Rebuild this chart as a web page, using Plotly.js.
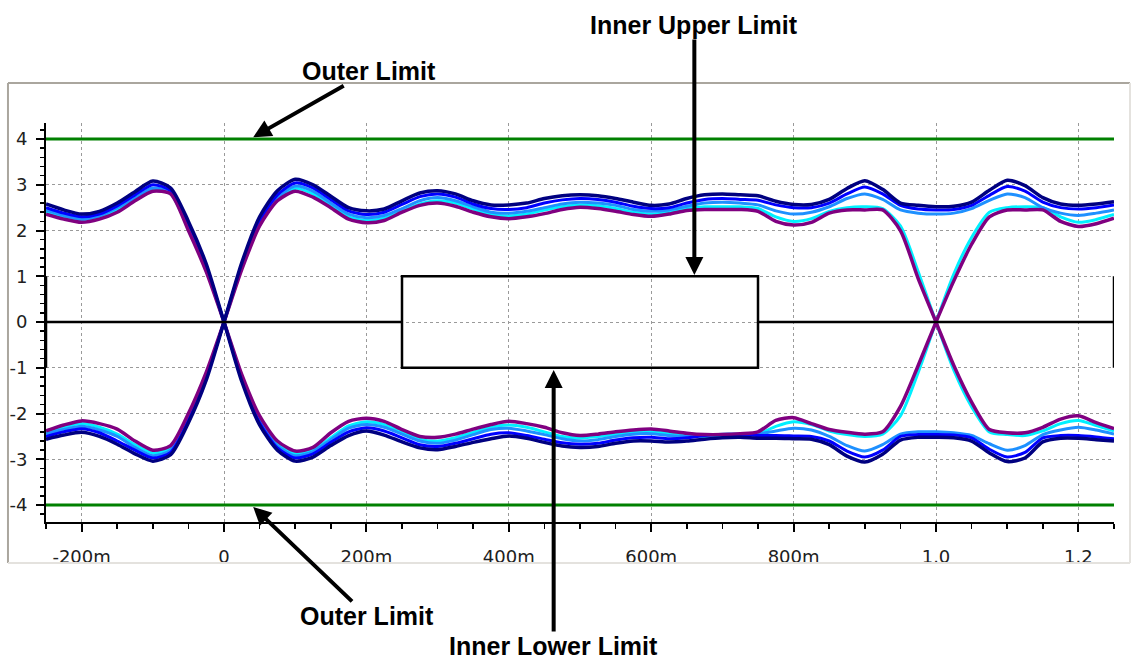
<!DOCTYPE html>
<html>
<head>
<meta charset="utf-8">
<script src="https://cdn.plot.ly/plotly-3.0.1.min.js"></script>
<style>html,body{margin:0;padding:0;background:#fff;}#chart{width:1137px;height:662px;}</style>
</head>
<body>
<div id="chart"></div>
<script>
// time axis (UI), one sample every 25m
const xUI = [-0.25,-0.225,-0.2,-0.175,-0.15,-0.125,-0.1,-0.075,-0.05,-0.025,
  0,0.025,0.05,0.075,0.1,0.125,0.15,0.175,0.2,0.225,
  0.25,0.275,0.3,0.325,0.35,0.375,0.4,0.425,0.45,0.475,
  0.5,0.525,0.55,0.575,0.6,0.625,0.65,0.675,0.7,0.725,
  0.75,0.775,0.8,0.825,0.85,0.875,0.9,0.925,0.95,0.975,
  1.0,1.025,1.05,1.075,1.1,1.125,1.15,1.175,1.2,1.225,1.25];

// navy outer-envelope traces (V)
const navyHL = [2.58,2.45,2.36,2.42,2.6,2.85,3.08,2.93,2.2,1.27,
  0,-1.3,-2.25,-2.8,-3.04,-2.95,-2.7,-2.48,-2.38,-2.47,
  -2.62,-2.75,-2.79,-2.72,-2.63,-2.55,-2.49,-2.54,-2.63,-2.71,
  -2.74,-2.72,-2.65,-2.6,-2.6,-2.62,-2.6,-2.56,-2.53,-2.52,
  -2.54,-2.54,-2.55,-2.56,-2.68,-2.93,-3.06,-2.89,-2.58,-2.52,
  -2.52,-2.53,-2.6,-2.86,-3.05,-2.97,-2.62,-2.54,-2.54,-2.57,-2.6];
const navyLH = [-2.56,-2.47,-2.41,-2.5,-2.67,-2.88,-3.04,-2.9,-2.2,-1.27,
  0,1.3,2.3,2.87,3.12,3.0,2.75,2.5,2.43,2.47,
  2.65,2.82,2.87,2.8,2.65,2.56,2.56,2.6,2.7,2.76,
  2.78,2.76,2.7,2.62,2.55,2.58,2.7,2.78,2.8,2.78,
  2.76,2.64,2.57,2.57,2.68,2.92,3.09,2.9,2.6,2.55,
  2.52,2.53,2.62,2.88,3.1,2.98,2.72,2.58,2.55,2.58,2.63];

// purple inner-envelope traces (V)
const purpleHLH = [2.36,2.25,2.18,2.25,2.4,2.65,2.86,2.8,2.0,1.1,
  0,-1.15,-2.05,-2.6,-2.82,-2.74,-2.42,-2.17,-2.1,-2.17,
  -2.35,-2.5,-2.52,-2.45,-2.34,-2.24,-2.17,-2.22,-2.3,-2.42,
  -2.48,-2.45,-2.4,-2.36,-2.34,-2.38,-2.43,-2.46,-2.46,-2.44,
  -2.4,-2.15,-2.09,-2.22,-2.35,-2.41,-2.45,-2.4,-1.85,-0.95,
  0,0.9,1.7,2.3,2.45,2.45,2.45,2.2,2.09,2.15,2.27];
const purpleLHL = [-2.38,-2.25,-2.16,-2.22,-2.34,-2.6,-2.8,-2.7,-2.0,-1.1,
  0,1.15,2.1,2.65,2.86,2.73,2.5,2.25,2.17,2.22,
  2.4,2.55,2.6,2.53,2.4,2.3,2.26,2.3,2.37,2.46,
  2.51,2.48,2.42,2.35,2.31,2.36,2.44,2.46,2.46,2.46,
  2.42,2.2,2.12,2.18,2.38,2.45,2.45,2.45,2.0,0.95,
  0,-0.95,-1.75,-2.35,-2.42,-2.42,-2.3,-2.12,-2.05,-2.2,-2.33];

// blue traces (V)
const blueHL = [2.5,2.38,2.3,2.36,2.54,2.78,3.0,2.87,2.15,1.22,
  0,-1.25,-2.2,-2.75,-2.97,-2.88,-2.63,-2.4,-2.31,-2.38,
  -2.53,-2.68,-2.72,-2.65,-2.55,-2.45,-2.42,-2.48,-2.56,-2.64,
  -2.67,-2.65,-2.58,-2.53,-2.52,-2.55,-2.53,-2.48,-2.46,-2.46,
  -2.48,-2.48,-2.49,-2.5,-2.6,-2.82,-2.95,-2.8,-2.5,-2.46,
  -2.46,-2.47,-2.53,-2.78,-2.95,-2.85,-2.53,-2.48,-2.48,-2.51,-2.55];
const blueLH = [-2.5,-2.4,-2.33,-2.42,-2.6,-2.8,-2.97,-2.85,-2.15,-1.22,
  0,1.25,2.2,2.78,3.04,2.93,2.68,2.43,2.35,2.4,
  2.57,2.74,2.8,2.73,2.58,2.48,2.46,2.5,2.6,2.67,
  2.7,2.68,2.62,2.53,2.48,2.5,2.6,2.68,2.7,2.68,
  2.66,2.56,2.5,2.5,2.6,2.8,2.95,2.8,2.55,2.47,
  2.45,2.46,2.55,2.77,2.96,2.86,2.62,2.5,2.47,2.5,2.56];

// light blue traces (V)
const lightLH = [-2.45,-2.35,-2.28,-2.36,-2.5,-2.74,-2.92,-2.8,-2.1,-1.18,
  0,1.2,2.15,2.72,2.97,2.86,2.6,2.36,2.28,2.33,
  2.48,2.65,2.72,2.65,2.52,2.4,2.38,2.42,2.5,2.58,
  2.62,2.6,2.55,2.46,2.42,2.45,2.53,2.6,2.62,2.6,
  2.56,2.43,2.36,2.4,2.52,2.7,2.8,2.68,2.45,2.38,
  2.36,2.38,2.48,2.66,2.8,2.72,2.5,2.38,2.33,2.38,2.45];
const lightHL = [2.45,2.33,2.25,2.32,2.5,2.72,2.93,2.83,2.1,1.18,
  0,-1.2,-2.15,-2.7,-2.92,-2.83,-2.57,-2.32,-2.24,-2.3,
  -2.45,-2.6,-2.65,-2.58,-2.46,-2.35,-2.32,-2.38,-2.46,-2.55,
  -2.6,-2.57,-2.5,-2.45,-2.44,-2.48,-2.5,-2.48,-2.45,-2.45,
  -2.45,-2.38,-2.32,-2.36,-2.5,-2.7,-2.82,-2.68,-2.45,-2.4,
  -2.4,-2.42,-2.48,-2.66,-2.8,-2.7,-2.46,-2.36,-2.3,-2.36,-2.45];

// cyan traces (V), switching again at 1.0 UI
const cyanLHL = [-2.42,-2.3,-2.22,-2.3,-2.45,-2.68,-2.86,-2.76,-2.05,-1.14,
  0,1.18,2.12,2.68,2.92,2.8,2.55,2.3,2.22,2.27,
  2.42,2.58,2.65,2.6,2.47,2.35,2.32,2.36,2.45,2.52,
  2.56,2.54,2.48,2.4,2.36,2.4,2.48,2.52,2.52,2.52,
  2.48,2.3,2.2,2.26,2.42,2.5,2.52,2.48,2.1,1.1,
  0,-1.05,-1.85,-2.4,-2.46,-2.48,-2.38,-2.22,-2.15,-2.26,-2.38];
const cyanHLH = [2.42,2.3,2.22,2.3,2.45,2.7,2.9,2.8,2.05,1.14,
  0,-1.18,-2.1,-2.66,-2.88,-2.8,-2.53,-2.27,-2.18,-2.24,
  -2.4,-2.56,-2.6,-2.53,-2.41,-2.3,-2.25,-2.3,-2.4,-2.5,
  -2.54,-2.5,-2.45,-2.4,-2.4,-2.43,-2.47,-2.5,-2.5,-2.48,
  -2.45,-2.28,-2.18,-2.24,-2.38,-2.46,-2.5,-2.45,-2.05,-1.1,
  0,1.05,1.85,2.4,2.5,2.52,2.5,2.3,2.18,2.24,2.35];

// eye mask outline and outer limits
const maskX = [-0.25,-0.25,-0.25,0.25,0.25,0.75,0.75,1.25,1.25,1.25,1.25,0.75,0.75,0.25,0.25];
const maskY = [1,-1,0,0,1,1,0,0,1,-1,0,0,-1,-1,0];
const outerX = [-0.25, 1.25];
const outerUpper = [4, 4];
const outerLower = [-4, -4];

// tick labels
const xTickVals = [-0.2,0,0.2,0.4,0.6,0.8,1.0,1.2];
const xTickText = ['-200m','0','200m','400m','600m','800m','1.0','1.2'];
const yTickVals = [-4,-3,-2,-1,0,1,2,3,4];
const yTickText = ['-4','-3','-2','-1','0','1','2','3','4'];

function wave(y, color, width) {
  return {x: xUI, y: y, type: 'scatter', mode: 'lines', hoverinfo: 'skip',
    line: {color: color, width: width, shape: 'spline', smoothing: 0.7}};
}

const traces = [
  wave(cyanLHL, '#00f0ff', 3), wave(cyanHLH, '#00f0ff', 3),
  wave(lightLH, '#1e90ff', 3), wave(lightHL, '#1e90ff', 3),
  wave(blueLH, '#0000ff', 3), wave(blueHL, '#0000ff', 3),
  wave(purpleHLH, '#800080', 3.5), wave(purpleLHL, '#800080', 3.5),
  wave(navyHL, '#000080', 3.5), wave(navyLH, '#000080', 3.5),
  {x: maskX, y: maskY, type: 'scatter', mode: 'lines', hoverinfo: 'skip', line: {color: '#000', width: 2.5}},
  {x: outerX, y: outerUpper, type: 'scatter', mode: 'lines', hoverinfo: 'skip', line: {color: '#008000', width: 3}},
  {x: outerX, y: outerLower, type: 'scatter', mode: 'lines', hoverinfo: 'skip', line: {color: '#008000', width: 3}}
];

const tickFont = {family: 'DejaVu Sans', size: 18, color: '#202020'};
const labelFont = {family: 'Liberation Sans', size: 25, color: '#000'};
const arrowBase = {showarrow: true, arrowhead: 2, arrowsize: 0.9, arrowwidth: 4, arrowcolor: '#000', font: labelFont, borderpad: 0, xref: 'x', yref: 'y'};

const layout = {
  width: 1137, height: 662,
  margin: {l: 46, r: 23, t: 123, b: 140, pad: 0},
  paper_bgcolor: '#fff', plot_bgcolor: '#fff',
  showlegend: false,
  xaxis: {
    range: [-0.25, 1.25], tickmode: 'array', tickvals: xTickVals, ticktext: xTickText,
    showline: true, linecolor: '#000', linewidth: 2, mirror: false,
    ticks: 'outside', ticklen: 8, tickwidth: 2, tickcolor: '#000',
    ticklabelstandoff: 9,
    showgrid: true, gridcolor: '#9a9a9a', griddash: 'dot', gridwidth: 1,
    zeroline: false, tickfont: tickFont,
    minor: {tickmode: 'linear', tick0: 0, dtick: 0.05, ticks: 'outside', ticklen: 5, tickwidth: 1.5, tickcolor: '#000', showgrid: false}
  },
  yaxis: {
    range: [-4.37, 4.35], tickmode: 'array', tickvals: yTickVals, ticktext: yTickText,
    showline: true, linecolor: '#000', linewidth: 2, mirror: false,
    ticks: 'outside', ticklen: 8, tickwidth: 2, tickcolor: '#000',
    ticklabelstandoff: 5,
    showgrid: true, gridcolor: '#9a9a9a', griddash: 'dot', gridwidth: 1,
    zeroline: false, tickfont: tickFont,
    minor: {tickmode: 'linear', tick0: 0, dtick: 0.2, ticks: 'outside', ticklen: 4, tickwidth: 1.5, tickcolor: '#000', showgrid: false}
  },
  shapes: [
    {type: 'line', xref: 'paper', yref: 'paper', x0: -0.0356, x1: 1.015, y0: 1.1003, y1: 1.1003, line: {color: '#aaa69e', width: 2}},
    {type: 'line', xref: 'paper', yref: 'paper', x0: -0.0356, x1: -0.0356, y0: 1.1003, y1: -0.1028, line: {color: '#aaa69e', width: 2}},
    {type: 'line', xref: 'paper', yref: 'paper', x0: 1.015, x1: 1.015, y0: 1.1003, y1: -0.1028, line: {color: '#e4e2de', width: 2}},
    {type: 'line', xref: 'paper', yref: 'paper', x0: -0.0356, x1: 1.015, y0: -0.1028, y1: -0.1028, line: {color: '#e4e2de', width: 2}}
  ],
  annotations: [
    Object.assign({}, arrowBase, {text: '<b>Inner Upper Limit</b>', x: 0.6606, y: 1.03, ax: 0, ay: -250}),
    Object.assign({}, arrowBase, {text: '<b>Outer Limit</b>', x: 0.041, y: 4.04, ax: 116, ay: -66}),
    Object.assign({}, arrowBase, {text: '<b>Outer Limit</b>', x: 0.041, y: -4.04, ax: 114, ay: 109}),
    Object.assign({}, arrowBase, {text: '<b>Inner Lower Limit</b>', x: 0.463, y: -1.05, ax: 0, ay: 276}),
    {text: 'V', x: -0.247, y: 4.82, xref: 'x', yref: 'y', showarrow: false, font: {family: 'DejaVu Sans', size: 17, color: '#202020'}},
    {text: 'UI', x: 1.262, y: -4.75, xref: 'x', yref: 'y', showarrow: false, font: {family: 'DejaVu Sans', size: 17, color: '#202020'}}
  ]
};

Plotly.newPlot('chart', traces, layout, {staticPlot: true, displayModeBar: false});
</script>
</body>
</html>
